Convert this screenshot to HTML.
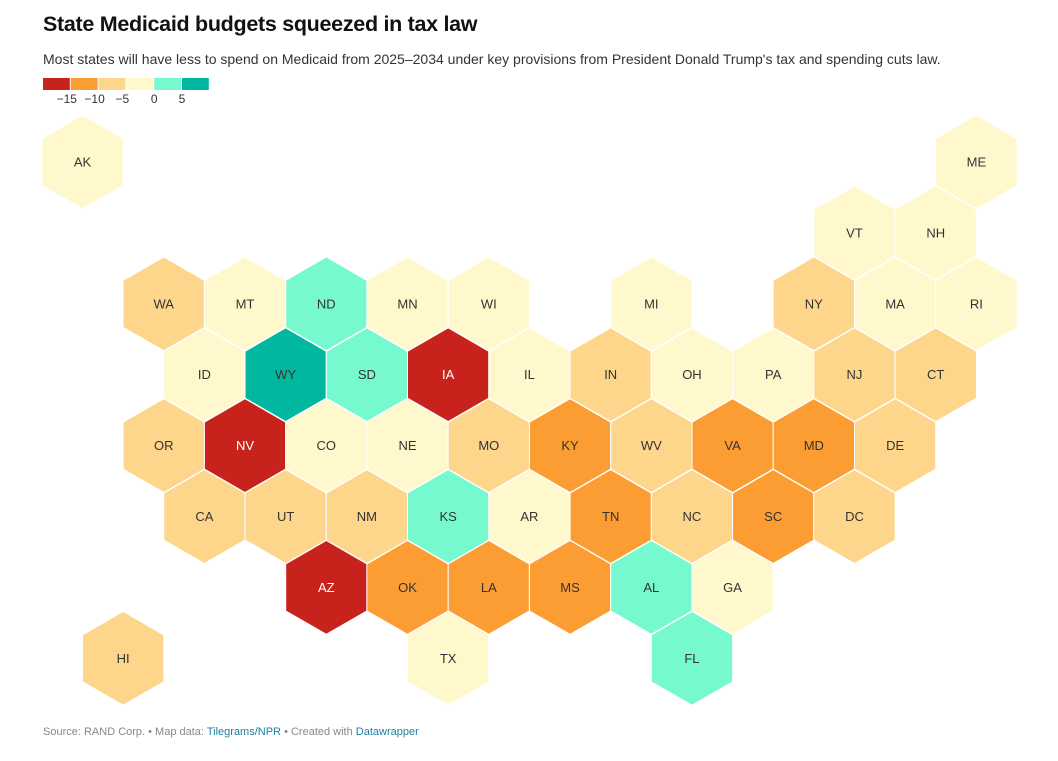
<!DOCTYPE html>
<html><head><meta charset="utf-8">
<style>
body{margin:0;background:#fff;font-family:"Liberation Sans",sans-serif;}
#wrap{position:relative;width:1058px;height:761px;overflow:hidden}
h1{position:absolute;left:43px;top:12px;margin:0;font-size:21.5px;font-weight:bold;color:#111;letter-spacing:-0.3px}
.sub{position:absolute;left:43px;top:51px;font-size:14px;color:#333}
.src{position:absolute;left:43px;top:726px;font-size:11px;color:#888}
.src a{color:#1d81a2;text-decoration:none}
svg{position:absolute;left:0;top:0}
</style></head><body>
<div id="wrap">
<h1>State Medicaid budgets squeezed in tax law</h1>
<div class="sub">Most states will have less to spend on Medicaid from 2025–2034 under key provisions from President Donald Trump's tax and spending cuts law.</div>
<svg id="map" width="1058" height="761"></svg>
<div class="src">Source: RAND Corp. • Map data: <a>Tilegrams/NPR</a> • Created with <a>Datawrapper</a></div>
</div>
<script>
const states=["AK","ME","VT","NH","WA","MT","ND","MN","WI","MI","NY","MA","RI","ID","WY","SD","IA","IL","IN","OH","PA","NJ","CT","OR","NV","CO","NE","MO","KY","WV","VA","MD","DE","CA","UT","NM","KS","AR","TN","NC","SC","DC","AZ","OK","LA","MS","AL","GA","HI","TX","FL"];
const gridCol=[0,22,19,21,2,4,6,8,10,14,18,20,22,3,5,7,9,11,13,15,17,19,21,2,4,6,8,10,12,14,16,18,20,3,5,7,9,11,13,15,17,19,6,8,10,12,14,16,1,9,15];
const gridRow=[0,0,1,1,2,2,2,2,2,2,2,2,2,3,3,3,3,3,3,3,3,3,3,4,4,4,4,4,4,4,4,4,4,5,5,5,5,5,5,5,5,5,6,6,6,6,6,6,7,7,7];
const values=[-2,-3,-2,-3,-7,-3,2,-3,-2,-3,-7,-3,-2,-3,7,3,-17,-3,-7,-3,-3,-7,-7,-7,-17,-3,-3,-7,-12,-7,-12,-12,-7,-7,-7,-7,3,-3,-12,-7,-12,-7,-17,-12,-12,-12,3,-3,-7,-3,3];
const legendTicks=[-15,-10,-5,0,5];
const colors=["#c8221c","#fb9d33","#fdd58b","#fff8cc","#76f9cf","#00b8a0"];
const NS="http://www.w3.org/2000/svg";
const svg=document.getElementById('map');
function x(c){return 82.5+c*40.63;}
function y(r){return 162+r*70.9;}
function color(v){let i=0;while(i<legendTicks.length&&v>=legendTicks[i])i++;return colors[i];}
const lg=document.createElementNS(NS,'g');


svg.appendChild(lg);
const sw=27.8;
colors.forEach((c,i)=>{const r=document.createElementNS(NS,'rect');
r.setAttribute('x',43+i*sw);r.setAttribute('y',78);r.setAttribute('width',sw-1);r.setAttribute('height',12);r.setAttribute('fill',c);


lg.appendChild(r);});
legendTicks.forEach((t,i)=>{const tx=document.createElementNS(NS,'text');
tx.setAttribute('x',43+(i+1)*sw-(t<0?4:0));tx.setAttribute('y',103);tx.setAttribute('text-anchor','middle');tx.setAttribute('font-size','12');tx.setAttribute('fill','#333');
tx.textContent=(t<0?'\u2212'+(-t):t);


lg.appendChild(tx);});
const hw=40.63,hh=46.9;
states.forEach((s,i)=>{
const cx=x(gridCol[i]),cy=y(gridRow[i]);
const g=document.createElementNS(NS,'g');


const p=document.createElementNS(NS,'polygon');
const pts=[[0,-hh],[hw,-hh/2],[hw,hh/2],[0,hh],[-hw,hh/2],[-hw,-hh/2]].map(q=>(cx+q[0]).toFixed(1)+','+(cy+q[1]).toFixed(1)).join(' ');
p.setAttribute('points',pts);p.setAttribute('fill',color(values[i]));p.setAttribute('stroke','#fff');p.setAttribute('stroke-width','1');
g.appendChild(p);
const t=document.createElementNS(NS,'text');
t.setAttribute('x',cx);t.setAttribute('y',cy+4.5);t.setAttribute('text-anchor','middle');t.setAttribute('font-size','13');t.setAttribute('fill','#333');
if(values[i]<-15){t.setAttribute('fill','#fff');}
t.textContent=s;


g.appendChild(t);
svg.appendChild(g);});
</script>
</body></html>
